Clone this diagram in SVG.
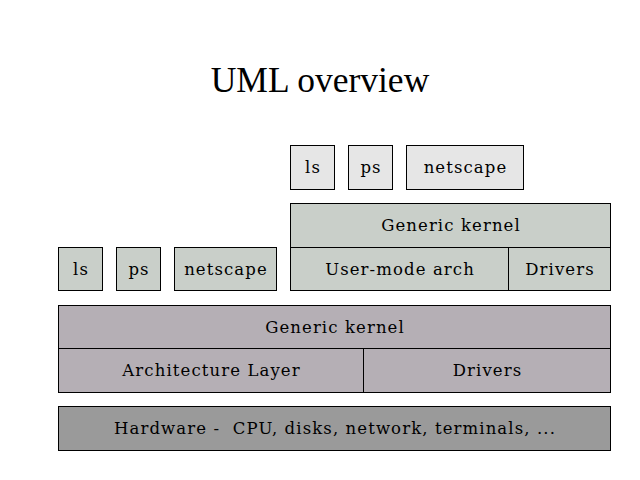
<svg xmlns="http://www.w3.org/2000/svg" width="640" height="480" viewBox="0 0 640 480">
<style>
.box{stroke:#000;stroke-width:1}
.app1{fill:#e6e6e6}
.app2{fill:#c9cfc9}
.uk{fill:#c9cfc9}
.hk{fill:#b5afb5}
.hw{fill:#9a9a9a}
text{font-family:"DejaVu Serif","Liberation Serif",serif;font-size:16.5px;letter-spacing:1.1px;text-anchor:middle;fill:#000}
.title{font-family:"Liberation Serif",serif;font-size:35.5px;letter-spacing:0}
</style>
<rect x="0" y="0" width="640" height="480" fill="#fff"/>
<text class="title" x="320" y="92">UML overview</text>
<g id="ls-top"><rect class="box app1" x="290.5" y="145.5" width="44" height="44"/><text x="313" y="173">ls</text></g>
<g id="ps-top"><rect class="box app1" x="348.5" y="145.5" width="44" height="44"/><text x="371" y="173">ps</text></g>
<g id="netscape-top"><rect class="box app1" x="406.5" y="145.5" width="117" height="44"/><text x="465.5" y="173">netscape</text></g>
<g id="uml-kernel"><rect class="box uk" x="290.5" y="203.5" width="320" height="44"/><text x="451" y="231">Generic kernel</text></g>
<g id="user-mode-arch"><rect class="box uk" x="290.5" y="247.5" width="218" height="43"/><text x="400" y="275">User-mode arch</text></g>
<g id="uml-drivers"><rect class="box uk" x="508.5" y="247.5" width="102" height="43"/><text x="560" y="275">Drivers</text></g>
<g id="ls-host"><rect class="box app2" x="58.5" y="247.5" width="44" height="43"/><text x="81" y="275">ls</text></g>
<g id="ps-host"><rect class="box app2" x="116.5" y="247.5" width="44" height="43"/><text x="139" y="275">ps</text></g>
<g id="netscape-host"><rect class="box app2" x="174.5" y="247.5" width="102" height="43"/><text x="226" y="275">netscape</text></g>
<g id="host-kernel"><rect class="box hk" x="58.5" y="305.5" width="552" height="43"/><text x="335" y="333">Generic kernel</text></g>
<g id="arch-layer"><rect class="box hk" x="58.5" y="348.5" width="305" height="44"/><text x="211.5" y="376">Architecture Layer</text></g>
<g id="host-drivers"><rect class="box hk" x="363.5" y="348.5" width="247" height="44"/><text x="487.5" y="376">Drivers</text></g>
<g id="hardware"><rect class="box hw" x="58.5" y="406.5" width="552" height="44"/><text x="335" y="434" xml:space="preserve">Hardware -  CPU, disks, network, terminals, ...</text></g>
<g id="connectors"></g>
</svg>
